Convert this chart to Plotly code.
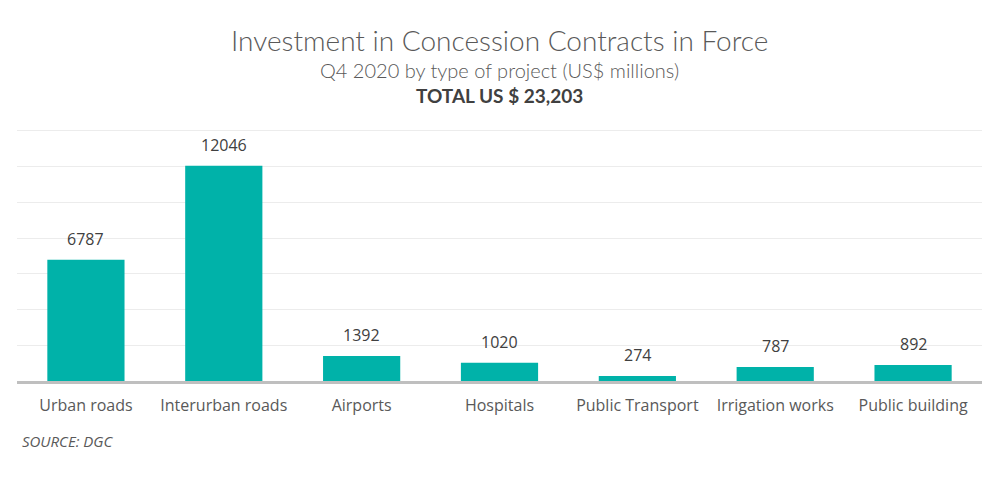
import plotly.graph_objects as go

categories = ["Urban roads", "Interurban roads", "Airports", "Hospitals",
              "Public Transport", "Irrigation works", "Public building"]
investment = [6787, 12046, 1392, 1020, 274, 787, 892]

title = "Investment in Concession Contracts in Force"
subtitle = "Q4 2020 by type of project (US$ millions)"
total_line = "TOTAL US $ 23,203"
source = "SOURCE: DGC"

bar_color = "#00B2A9"
font_head = "Lato, Open Sans, sans-serif"
font_body = "Open Sans, sans-serif"

# page body has an 8px margin, so the figure is 8px smaller and margins shifted
W, H = 989, 491
L, R, T, B = 9, 15, 121, 118
plot_h = H - T - B

def ypaper(px):
    # px measured from top of figure
    return (H - B - px) / plot_h

fig = go.Figure()
fig.add_trace(go.Bar(x=categories, y=investment, marker_color=bar_color,
                     marker_line_width=0, hoverinfo="x+y"))

# value labels above bars
for c, v in zip(categories, investment):
    fig.add_annotation(x=c, y=v, text=str(v), showarrow=False, yanchor="bottom",
                       yshift=8, font=dict(family=font_body, size=16, color="#404040"))

# title block
head = [
    (title, 32, 28, "#595959", 300),
    (subtitle, 62, 20, "#595959", 300),
    (total_line, 87, 19, "#404040", 700),
]
for txt, ypx, size, col, weight in head:
    fig.add_annotation(text=txt, x=0.5, xref="paper", y=ypaper(ypx), yref="paper",
                       yanchor="middle", showarrow=False,
                       font=dict(family=font_head, size=size, color=col, weight=weight))

fig.add_annotation(text=f"<i>{source}</i>", x=(12 - L) / (W - L - R), xref="paper",
                   y=ypaper(433), yref="paper", yanchor="middle", xanchor="left",
                   showarrow=False, font=dict(family=font_body, size=15, color="#595959"))

fig.update_layout(
    width=W, height=H,
    margin=dict(l=L, r=R, t=T, b=B),
    paper_bgcolor="white", plot_bgcolor="white",
    bargap=0.44, showlegend=False,
    xaxis=dict(showline=True, linecolor="#bfbfbf", linewidth=2.5, ticks="",
               ticklabelstandoff=8,
               tickfont=dict(family=font_body, size=16, color="#595959")),
    yaxis=dict(range=[0, 14100], tickvals=list(range(0, 14001, 2000)),
               showticklabels=False, gridcolor="#ececec", gridwidth=1, zeroline=False),
)

fig.write_html("out.html")
